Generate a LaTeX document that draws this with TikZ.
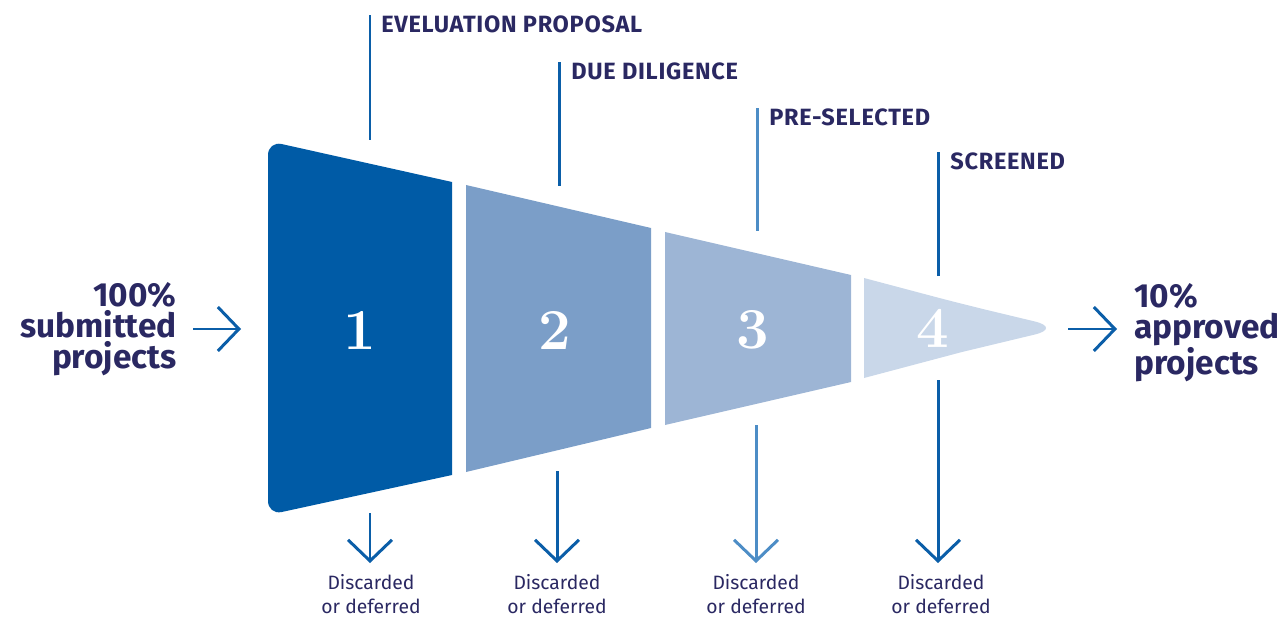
\documentclass[tikz,border=0pt]{standalone}
\usepackage{fontspec}
\setsansfont{Fira Sans}
\newfontfamily\phasefont[LetterSpace=3]{Fira Sans}
\newfontfamily\numfont{Latin Modern Roman}
\usetikzlibrary{positioning,arrows.meta}

\definecolor{navy}{HTML}{2A2862}
\definecolor{stepA}{HTML}{005BA6}
\definecolor{stepB}{HTML}{7B9EC8}
\definecolor{stepC}{HTML}{9DB5D5}
\definecolor{stepD}{HTML}{C9D7E9}
\definecolor{lineA}{HTML}{0B5EA8}
\definecolor{lineC}{HTML}{4D8DC6}

\tikzset{
  bigtxt/.style={font=\sffamily\bfseries\fontsize{19}{17.6}\selectfont, text=navy, inner sep=0pt},
  phase/.style={font=\phasefont\bfseries\fontsize{13.4}{15}\selectfont, text=navy, anchor=north west, inner sep=0pt},
  outtxt/.style={font=\sffamily\fontsize{11}{13.8}\selectfont, text=navy, align=center, anchor=north, inner sep=0pt},
  num/.style={font=\numfont\bfseries\fontsize{33}{33}\selectfont, text=white},
  tick/.style={line width=1.7pt, draw=lineA},
  flow/.style={tick, -{Straight Barb[length=12pt,width=25pt]}},
}

\begin{document}
\begin{tikzpicture}[x=0.02cm,y=-0.02cm]
  \useasboundingbox (0,0) rectangle (1284,618);

  % funnel
  \fill[stepA] (360,161.5) [rounded corners=8] -- (268,141) -- (268,515) -- (360,495)
    [sharp corners] -- (452,475) -- (452,182) -- cycle;
  \fill[stepB] (466,185) -- (651,228) -- (651,428) -- (466,472) -- cycle;
  \fill[stepC] (665,232) -- (851,275) -- (851,382) -- (665,425) -- cycle;
  \fill[stepD] (864,278) -- (864,378) -- (962,352) [rounded corners=16] -- (1062,328)
    -- (962,304) [sharp corners] -- cycle;

  \node[num] (n1) at (360,330) {1};
  \node[num] (n2) at (555,330) {2};
  \node[num] (n3) at (753,330) {3};
  \node[num] (n4) at (933,328) {4};

  % in and out
  \node[bigtxt, align=right, anchor=north east] (inp) at (177,282) {100\%\\submitted\\projects};
  \node[bigtxt, align=left, anchor=north west] (outp) at (1134,283) {10\%\\approved\\projects};
  \coordinate (inA) at (193,329);
  \coordinate (inB) at (241,329);
  \coordinate (outA) at (1068,329);
  \coordinate (outB) at (1117,329);
  \draw[flow] (inA) -- (inB);
  \draw[flow] (outA) -- (outB);

  % phases
  \node[phase] (p1) at (381,15) {EVELUATION PROPOSAL};
  \node[phase] (p2) at (571,62) {DUE DILIGENCE};
  \node[phase] (p3) at (769,108) {PRE-SELECTED};
  \node[phase] (p4) at (950,152) {SCREENED};
  \coordinate (t1) at (370,140);
  \coordinate (t2) at (559,186);
  \coordinate (t3) at (757,231);
  \coordinate (t4) at (938,276);
  \draw[tick] (t1) -- (t1 |- p1.north);
  \draw[tick] (t2) -- (t2 |- p2.north);
  \draw[tick, draw=lineC] (t3) -- (t3 |- p3.north);
  \draw[tick] (t4) -- (t4 |- p4.north);

  % discarded
  \node[outtxt] (d1) at (371,574) {Discarded\\or deferred};
  \node[outtxt] (d2) at (557,574) {Discarded\\or deferred};
  \node[outtxt] (d3) at (756,574) {Discarded\\or deferred};
  \node[outtxt] (d4) at (941,574) {Discarded\\or deferred};
  \coordinate (b1) at (370,513);
  \coordinate (b2) at (557,471);
  \coordinate (b3) at (756,425);
  \coordinate (b4) at (938,380);
  \draw[flow, shorten >=0.22cm] (b1) -- (b1 |- d1.north);
  \draw[flow, shorten >=0.22cm] (b2) -- (b2 |- d2.north);
  \draw[flow, draw=lineC, shorten >=0.22cm] (b3) -- (b3 |- d3.north);
  \draw[flow, shorten >=0.22cm] (b4) -- (b4 |- d4.north);
\end{tikzpicture}
\end{document}
